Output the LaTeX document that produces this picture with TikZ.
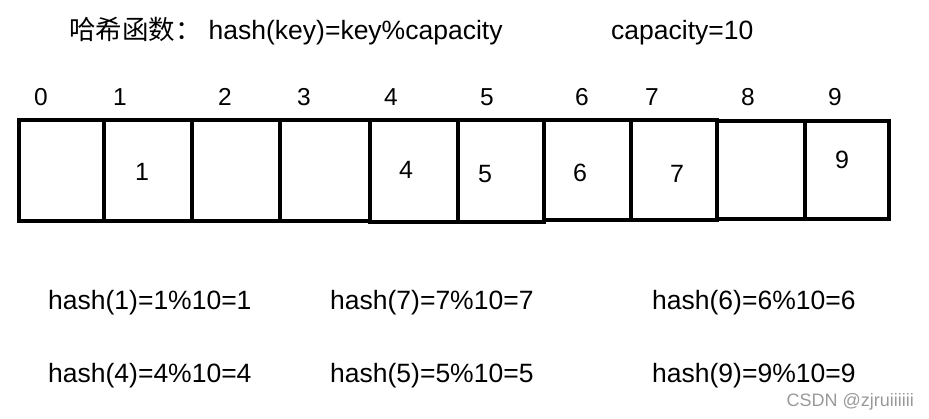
\documentclass[tikz,border=0pt]{standalone}
\usepackage{fontspec}
\setmainfont{Liberation Sans}
\newfontfamily\cjk{Noto Sans CJK SC}
\usetikzlibrary{calc}
\tikzset{
  cellbox/.style={line width=4.5pt},
  thincell/.style={line width=3.5pt},
  idxlabel/.style={anchor=base, inner sep=0pt, font=\fontsize{24.5}{28}\selectfont},
  vallabel/.style={anchor=base, inner sep=0pt, font=\fontsize{25}{30}\selectfont},
  hashline/.style={anchor=base west, inner sep=0pt, font=\fontsize{26.5}{32}\selectfont}
}

\begin{document}
\begin{tikzpicture}[x=1pt, y=-1pt]
			%%%%% START %%%%%
			\useasboundingbox (0, 0) rectangle (929, 418);
			
			\node[hashline] (title) at (69, 39) {{\cjk 哈希函数：}\hspace{7pt}hash(key)=key\%capacity};
			\node[hashline] (cap) at (611, 39) {capacity=10};
			
			% table cells
			\draw[cellbox] (19, 120) rectangle (104, 221);
			\draw[cellbox] (104, 120) rectangle (192, 221);
			\draw[cellbox] (192, 120) rectangle (280, 221);
			\draw[cellbox] (280, 120) rectangle (370, 221);
			\draw[cellbox] (370, 120) rectangle (458, 222);
			\draw[cellbox] (458, 120) rectangle (544, 222);
			\draw[cellbox] (544, 120) rectangle (631, 220);
			\draw[cellbox] (631, 120) rectangle (717, 220);
			\draw[thincell] (717, 121) rectangle (805, 219);
			\draw[thincell] (805, 121) rectangle (889, 219);
			
			% indices
			\foreach \i/\x in {0/41, 1/120, 2/225, 3/304, 4/391, 5/487, 6/582, 7/652, 8/748, 9/835}
				\node[idxlabel] (idx\i) at (\x, 105) {\i};
			
			% stored keys
			\node[vallabel] (val1) at (142, 180) {1};
			\node[vallabel] (val4) at (406, 178) {4};
			\node[vallabel] (val5) at (485, 182) {5};
			\node[vallabel] (val6) at (580, 181) {6};
			\node[vallabel] (val7) at (677, 182) {7};
			\node[vallabel] (val9) at (842, 168) {9};
			
			% hash values
			\node[hashline] (h1) at (48, 309) {hash(1)=1\%10=1};
			\node[hashline] (h7) at (330, 309) {hash(7)=7\%10=7};
			\node[hashline] (h6) at (652, 309) {hash(6)=6\%10=6};
			\node[hashline] (h4) at (48, 382) {hash(4)=4\%10=4};
			\node[hashline] (h5) at (330, 382) {hash(5)=5\%10=5};
			\node[hashline] (h9) at (652, 382) {hash(9)=9\%10=9};
			
			\node[anchor=base east, inner sep=0pt, font=\fontsize{18}{20}\selectfont, color=black!40] (mark) at (914, 406) {CSDN @zjruiiiiii};
			%%%%% END %%%%%
\end{tikzpicture}
\end{document}
